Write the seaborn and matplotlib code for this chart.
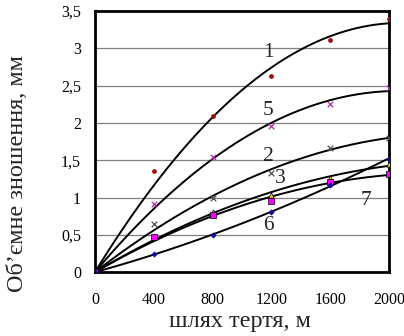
import numpy as np
import pandas as pd
import matplotlib
matplotlib.use('Agg')
import matplotlib.pyplot as plt
import matplotlib.ticker as mticker
import seaborn as sns

# Data
distance = [0, 400, 800, 1200, 1600, 2000]
wear_1 = [0, 1.35, 2.10, 2.63, 3.11, 3.40]
wear_5 = [0, 0.92, 1.55, 1.96, 2.25, 2.47]
wear_2 = [0, 0.64, 1.00, 1.33, 1.67, 1.80]
wear_3 = [0, 0.49, 0.80, 1.04, 1.26, 1.45]
wear_7 = [0, 0.47, 0.76, 0.96, 1.21, 1.31]
wear_6 = [0, 0.24, 0.50, 0.80, 1.17, 1.52]

series = {'1': wear_1, '5': wear_5, '2': wear_2, '3': wear_3, '7': wear_7, '6': wear_6}
colors = {'1': '#a01010', '5': '#b030b0', '2': '#505050', '3': '#f0e000', '7': '#ff00ff', '6': '#1010a0'}
markers = {'1': 'o', '5': 'x', '2': 'x', '3': '^', '7': 's', '6': 'D'}
labels_pos = {'1': (1180, 2.95), '5': (1180, 2.17), '2': (1180, 1.55),
              '3': (1260, 1.25), '7': (1840, 0.96), '6': (1180, 0.63)}

sns.set_style('white')
plt.rcParams['font.family'] = ['Liberation Serif', 'DejaVu Serif']

fig = plt.figure(figsize=(4.04, 3.36), dpi=100)
ax = fig.add_axes([0.235, 0.19, 0.728, 0.777])

for y in np.arange(0.5, 3.5, 0.5):
    ax.axhline(y, color='#808080', lw=0.9, zorder=0)

xs = np.linspace(0, 2000, 200)
for name, vals in series.items():
    # trend line through the origin: y = a*x + b*x^2
    x = np.array(distance, dtype=float)
    A = np.column_stack([x, x ** 2])
    (a, b), *_ = np.linalg.lstsq(A, np.array(vals), rcond=None)
    fit = pd.DataFrame({'x': xs, 'y': a * xs + b * xs ** 2})
    sns.lineplot(data=fit, x='x', y='y', color='black', lw=1.4, ax=ax, zorder=2)
    pts = pd.DataFrame({'x': distance, 'y': vals})
    m = markers[name]
    if m == 'x':
        kw = dict(s=16, linewidth=0.9)
    elif m == 'D':
        kw = dict(s=10, linewidth=0)
    elif m == 'o':
        kw = dict(s=12, linewidth=0)
    else:
        kw = dict(s=14, linewidth=0.5, edgecolor='black')
    sns.scatterplot(data=pts, x='x', y='y', marker=m, color=colors[name], ax=ax, zorder=3, **kw)
    tx, ty = labels_pos[name]
    ax.text(tx, ty, name, fontsize=15.5, ha='center', va='center')

ax.set_xlim(0, 2000)
ax.set_ylim(0, 3.5)
ax.set_xticks(range(0, 2001, 400))
ax.set_yticks(np.arange(0, 3.51, 0.5))
ax.yaxis.set_major_formatter(mticker.FuncFormatter(lambda v, p: ('%g' % v).replace('.', ',')))
ax.tick_params(direction='out', length=3, width=0.8, labelsize=11.5, colors='black', pad=7)
ax.tick_params(axis='x', pad=11)
ax.set_xlabel('шлях тертя, м', fontsize=17.5, va='center')
ax.set_ylabel('Об’ємне зношення, мм', fontsize=17.5, va='center')
ax.xaxis.set_label_coords(0.494, -0.19)
ax.yaxis.set_label_coords(-0.265, 0.377)
for sp in ax.spines.values():
    sp.set_linewidth(2)
    sp.set_color('black')

fig.savefig('out.png', dpi=100)
